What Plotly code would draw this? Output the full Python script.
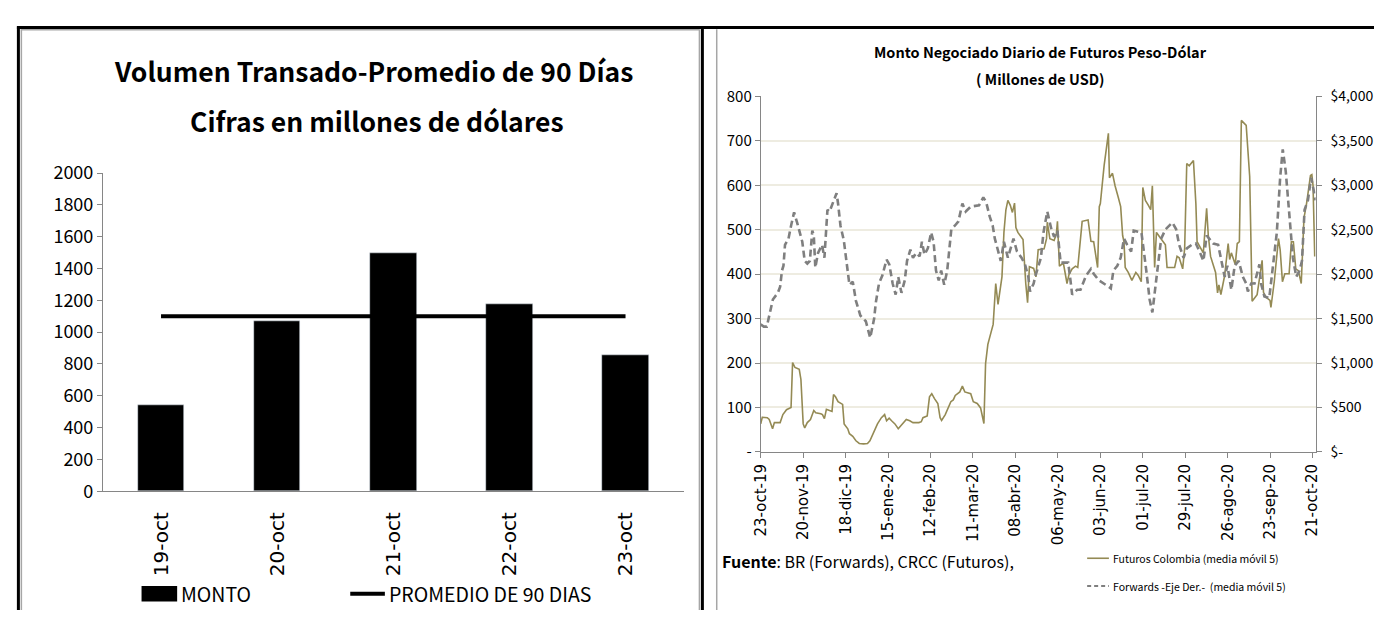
import pandas as pd
import plotly.graph_objects as go

# ---------------- Left chart: volume vs 90-day average ----------------
dias_semana = ["19-oct", "20-oct", "21-oct", "22-oct", "23-oct"]
monto = [540, 1070, 1497, 1176, 858]
promedio_90 = [1100, 1100, 1100, 1100, 1100]

# ---------------- Right chart: daily futures / forwards ----------------
inicio = pd.Timestamp("2019-10-23")

# Futuros Colombia (media movil 5), left axis - offsets in days from inicio
fut_dias = [0, 1, 4.3, 5.6, 7.8, 9, 12.8, 14.6, 17, 20, 21, 22.6, 25.4, 26.5, 28, 29, 30.7,
            32.8, 35, 36.3, 39.6, 40.7, 42, 43.3, 45.4, 47, 48, 49.3, 51, 52.6, 54, 55, 57.4,
            58.5, 60.7, 62.8, 65, 67.8, 70.4, 72, 74.3, 77, 79.6, 81.7, 83, 84.7, 86.3, 88.5,
            90.7, 93.5, 96, 98.3, 100.4, 104.3, 105.9, 107, 109.8, 111.3, 112.8, 114.6, 116.8,
            118.3, 119.3, 121.7, 123.7, 125.4, 127, 128.3, 131.3, 133, 134.6, 138.5, 140.2,
            142.8, 145, 146.8, 147.2, 148.3, 149.8, 151.5, 153.3, 155, 156.5, 159.1, 160.4,
            161.7, 163, 164.6, 166, 167.4, 168.3, 169.6, 173, 174.8, 175.6, 176, 177.2, 180,
            181.5, 183, 186.9, 188.5, 189, 190.7, 193.5, 195, 195.7, 197, 199.6, 202, 203.3,
            205.4, 207.6, 209.1, 212, 215.9, 217.8, 219.6, 222.2, 223.3, 224, 226.5, 229.3,
            230, 232, 233.7, 235.8, 237.4, 238.7, 239.6, 240.4, 242.4, 244.8, 247.4, 249, 251,
            252, 253.7, 255.7, 257.2, 258.3, 259.8, 261, 264, 266.9, 268, 273, 274.6, 276,
            278.3, 279.6, 281, 282.6, 285.4, 287, 287.8, 290.4, 291.9, 294.1, 295.2, 296.7,
            300, 301.3, 302.2, 303.5, 306, 308.3, 309.3, 310.4, 313, 314.3, 315.7, 317, 320.2,
            322.5, 324.1, 327.4, 330.7, 331.6, 333.3, 335.9, 336.5, 338.7, 340.4, 341.5, 342.6,
            344.1, 345.7, 348.5, 350, 351.3, 352.9, 354.6, 356.5, 358.3, 360, 361, 362.6, 363.5,
            364.3, 365.4]
fut_valor = [63, 78, 77, 73, 52, 66, 66, 84, 95, 100, 201, 190, 186, 163, 63, 54, 66,
             73, 93, 88, 86, 84, 75, 96, 93, 91, 129, 124, 113, 109, 107, 63, 52,
             41, 35, 25, 19, 18, 19, 25, 41, 63, 77, 84, 70, 76, 70, 63,
             52, 63, 73, 70, 66, 66, 68, 77, 81, 124, 131, 120, 109,
             77, 71, 84, 99, 113, 117, 127, 135, 148, 135, 131, 113,
             109, 99, 66, 64, 199, 242, 264, 287, 379, 332, 394, 494,
             545, 566, 555, 539, 560, 505, 494, 478, 379, 354, 336, 417, 413,
             394, 455, 457, 480, 517, 480, 476, 491, 519, 418, 425, 379, 399,
             412, 418, 415, 519, 522, 474, 473, 415, 552, 559, 645, 717,
             617, 627, 599, 573, 552, 487, 473, 415, 404, 386, 404, 397, 383,
             595, 566, 555, 545, 599, 415, 494, 480, 466, 415, 415, 440, 437,
             412, 458, 649, 644, 656, 559, 473, 458, 448, 548, 487, 440,
             404, 358, 376, 354, 397, 469, 433, 448, 422, 469, 473, 746, 735,
             620, 339, 354, 431, 359, 348, 341, 325, 383, 444, 480, 455,
             383, 401, 401, 473, 473, 412, 408, 379, 526, 559, 581, 622, 624,
             599, 440]

# Forwards - Eje Der. (media movil 5), right axis (USD millions)
fwd_dias = [0, 2, 4, 6.3, 8, 11.3, 12.8, 14, 15, 16, 18.3, 20, 22, 24, 26.3, 27.4, 29,
            30.7, 32.4, 34, 35, 36, 37.8, 40.4, 42, 44, 45.4, 47.6, 50, 51, 52.6, 54.8,
            56.3, 58.5, 60.7, 62.8, 65.7, 69.3, 72.2, 74.8, 75.9, 78, 80.2, 83, 84.8, 87,
            89, 90.7, 92.8, 95, 96.5, 98.7, 100.4, 102.6, 104.8, 106.3, 108, 110.2, 112.4,
            114, 115.6, 117.4, 119, 121, 123, 125.7, 128, 130.4, 133, 135.2, 138.5, 144,
            146.8, 148.7, 151, 153, 154.4, 158.3, 160.4, 163, 166.7, 169, 172, 174.3, 176.5,
            177.6, 180, 181, 184.8, 186.5, 189, 191.7, 193.5, 195.7, 197.8, 202.8, 204.3,
            205.4, 208.7, 210.9, 214.6, 217.8, 219.6, 223, 227.6, 230.9, 232.6, 235.2, 237.4,
            239.6, 241.7, 244.3, 246, 251.1, 254.3, 256.5, 258.3, 261.3, 264.1, 267, 271.5,
            274, 276, 278.9, 281, 284.3, 287, 289.8, 292, 294.1, 296, 298.5, 301.7, 304.3,
            306, 307.8, 310.4, 312.6, 315.2, 318, 320.2, 321.3, 323.5, 325.7, 328.9, 330,
            332.2, 335.4, 336.5, 340.4, 342.6, 344.3, 346.3, 348.5, 351, 353.2, 355.4, 357,
            358.7, 360.9, 363, 364.8, 365.8]
fwd_valor = [1435, 1410, 1410, 1610, 1715, 1790, 1860, 2040, 2095, 2330, 2400, 2545, 2695,
             2580, 2435, 2365, 2150, 2120, 2150, 2490, 2435, 2075, 2240, 2330, 2185, 2725,
             2705, 2795, 2910, 2795, 2545, 2380, 2185, 1880, 1915, 1700, 1535, 1470, 1285,
             1500, 1680, 1895, 1985, 2165, 2110, 1895, 1770, 1970, 1790, 1930, 2150, 2275,
             2185, 2240, 2200, 2365, 2220, 2290, 2470, 2365, 2040, 1930, 2040, 1880, 2040,
             2505, 2545, 2595, 2795, 2705, 2760, 2775, 2865, 2810, 2650, 2545, 2400, 2150,
             2365, 2185, 2400, 2255, 2185, 2110, 1970, 1805, 1895, 1970, 2185, 2470, 2705,
             2505, 2420, 2490, 2130, 2130, 1930, 1770, 1825, 1825, 1985, 2060, 2005, 1930,
             1880, 1840, 2040, 2095, 2185, 2400, 2330, 2255, 2490, 2470, 2040, 1715, 1570,
             1970, 2400, 2505, 2580, 2505, 2330, 2185, 2290, 2330, 2345, 2240, 2150, 2435,
             2400, 2345, 2330, 2110, 1970, 2095, 1825, 2095, 2150, 1970, 1895, 1805, 1895,
             1895, 2110, 1895, 1750, 1730, 1895, 2470, 3085, 3405, 3155, 2650, 2185, 1970,
             2040, 2150, 2725, 2830, 3085, 2940, 2830]

fechas_ticks = ["2019-10-23", "2019-11-20", "2019-12-18", "2020-01-15", "2020-02-12",
                "2020-03-11", "2020-04-08", "2020-05-06", "2020-06-03", "2020-07-01",
                "2020-07-29", "2020-08-26", "2020-09-23", "2020-10-21"]
etiquetas_ticks = ["23-oct-19", "20-nov-19", "18-dic-19", "15-ene-20", "12-feb-20",
                   "11-mar-20", "08-abr-20", "06-may-20", "03-jun-20", "01-jul-20",
                   "29-jul-20", "26-ago-20", "23-sep-20", "21-oct-20"]
eje_izq_vals = [0, 100, 200, 300, 400, 500, 600, 700, 800]
eje_izq_txt = ["-", "100", "200", "300", "400", "500", "600", "700", "800"]
eje_der_vals = [0, 500, 1000, 1500, 2000, 2500, 3000, 3500, 4000]
eje_der_txt = ["$-", "$500", "$1,000", "$1,500", "$2,000", "$2,500", "$3,000", "$3,500", "$4,000"]

fut_x = inicio + pd.to_timedelta(fut_dias, unit="D")
fwd_x = inicio + pd.to_timedelta(fwd_dias, unit="D")

W, H = 1380, 621
NARROW = "Noto Sans CJK SC, Noto Sans, sans-serif"
WIDE = "DejaVu Sans, Verdana, sans-serif"
AXIS_GRAY = "#868686"
OLIVE = "#948A54"


def px(x):
    return x / W


def py(y):
    return 1 - y / H


fig = go.Figure()

fig.add_trace(go.Bar(x=dias_semana, y=monto, name="MONTO", marker_color="black",
                     width=0.4, xaxis="x", yaxis="y", showlegend=False))
fig.add_trace(go.Scatter(x=dias_semana, y=promedio_90, name="PROMEDIO DE 90 DIAS",
                         mode="lines", line=dict(color="black", width=4),
                         xaxis="x", yaxis="y", showlegend=False))

fig.add_trace(go.Scatter(x=fut_x, y=fut_valor, name="Futuros Colombia (media móvil 5)",
                         mode="lines", line=dict(color=OLIVE, width=1.6),
                         xaxis="x2", yaxis="y2", showlegend=False))
fig.add_trace(go.Scatter(x=fwd_x, y=fwd_valor, name="Forwards -Eje Der.-  (media móvil 5)",
                         mode="lines", line=dict(color="#7F7F7F", width=2.6, dash="7px,4px"),
                         xaxis="x2", yaxis="y3", showlegend=False))

fig.update_layout(
    width=W, height=H,
    margin=dict(l=0, r=0, t=0, b=0),
    paper_bgcolor="white", plot_bgcolor="white",
    bargap=0,
    xaxis=dict(domain=[px(95), px(682)], anchor="y", type="category",
               showline=True, linecolor=AXIS_GRAY, linewidth=1, ticks="",
               tickangle=-90, ticklabelstandoff=12,
               tickfont=dict(family=WIDE, size=20, color="black"),
               showgrid=False, zeroline=False),
    yaxis=dict(domain=[py(497), py(165)], anchor="x", range=[0, 2000], dtick=200,
               showline=True, linecolor=AXIS_GRAY, linewidth=1, ticks="outside",
               ticklen=5, tickcolor=AXIS_GRAY,
               tickfont=dict(family=NARROW, size=18, color="black"),
               showgrid=False, zeroline=False),
    xaxis2=dict(domain=[px(760), px(1321)], anchor="y2", type="date",
                range=["2019-10-23", "2020-10-23"],
                tickmode="array", tickvals=fechas_ticks, ticktext=etiquetas_ticks,
                tickangle=-90, ticks="outside", ticklen=5, tickcolor=AXIS_GRAY,
                showline=True, linecolor=AXIS_GRAY, linewidth=1,
                tickfont=dict(family=WIDE, size=15, color="black"),
                showgrid=False, zeroline=False),
    yaxis2=dict(domain=[py(456), py(85)], anchor="x2", range=[0, 800],
                tickmode="array", tickvals=eje_izq_vals, ticktext=eje_izq_txt,
                ticks="outside", ticklen=5, tickcolor=AXIS_GRAY,
                showline=True, linecolor=AXIS_GRAY, linewidth=1,
                showgrid=True, gridcolor="#EEECE1", gridwidth=1.5,
                tickfont=dict(family=NARROW, size=15, color="black"), zeroline=False),
    yaxis3=dict(domain=[py(456), py(85)], anchor="x2", overlaying="y2", side="right",
                range=[0, 4000], tickmode="array", tickvals=eje_der_vals,
                ticktext=eje_der_txt, ticks="outside", ticklen=5, tickcolor=AXIS_GRAY,
                ticklabelstandoff=6,
                showline=True, linecolor=AXIS_GRAY, linewidth=1, showgrid=False,
                tickfont=dict(family=NARROW, size=14, color="black"), zeroline=False),
)

shapes = []
# panel frames
shapes.append(dict(type="line", xref="paper", yref="paper", x0=px(8), x1=px(1380),
                   y0=py(13), y1=py(13), line=dict(color="black", width=3)))
shapes.append(dict(type="line", xref="paper", yref="paper", x0=px(9.5), x1=px(9.5),
                   y0=py(12), y1=py(621), line=dict(color="black", width=3)))
shapes.append(dict(type="line", xref="paper", yref="paper", x0=px(701), x1=px(701),
                   y0=py(12), y1=py(621), line=dict(color="black", width=3)))
shapes.append(dict(type="line", xref="paper", yref="paper", x0=px(698), x1=px(698),
                   y0=py(15), y1=py(621), line=dict(color="#A6A6A6", width=1.5)))
shapes.append(dict(type="line", xref="paper", yref="paper", x0=px(12.5), x1=px(12.5),
                   y0=py(15), y1=py(621), line=dict(color="#A6A6A6", width=1.5)))
shapes.append(dict(type="line", xref="paper", yref="paper", x0=px(12), x1=px(698),
                   y0=py(15.5), y1=py(15.5), line=dict(color="#A6A6A6", width=1.5)))
shapes.append(dict(type="line", xref="paper", yref="paper", x0=px(715.5), x1=px(715.5),
                   y0=py(15), y1=py(621), line=dict(color="#A6A6A6", width=1.5)))

# left legend samples
shapes.append(dict(type="rect", xref="paper", yref="paper", x0=px(134), x1=px(170),
                   y0=py(612), y1=py(596), fillcolor="black", line=dict(width=0)))
shapes.append(dict(type="line", xref="paper", yref="paper", x0=px(345), x1=px(380),
                   y0=py(604), y1=py(604), line=dict(color="black", width=4)))
# right legend samples
shapes.append(dict(type="line", xref="paper", yref="paper", x0=px(1090), x1=px(1112),
                   y0=py(567), y1=py(567), line=dict(color=OLIVE, width=1.6)))
shapes.append(dict(type="line", xref="paper", yref="paper", x0=px(1090), x1=px(1112),
                   y0=py(596), y1=py(596), line=dict(color="#7F7F7F", width=2, dash="4px,3px")))
fig.update_layout(shapes=shapes)

ann = []


def txt(x, y, s, size, family=NARROW, bold=False, xanchor="center"):
    ann.append(dict(x=px(x), y=py(y), xref="paper", yref="paper", text=s,
                    showarrow=False, xanchor=xanchor, yanchor="middle",
                    font=dict(family=family, size=size, color="black",
                              weight="bold" if bold else "normal")))


txt(368, 58, "Volumen Transado-Promedio de 90 Días", 26.5, bold=True)
txt(372, 110, "Cifras en millones de dólares", 26.5, bold=True)
txt(172, 604, "MONTO", 19.5, xanchor="left")
txt(382, 604, "PROMEDIO DE 90 DIAS", 19.5, xanchor="left")

txt(1043, 38, "Monto Negociado Diario de Futuros Peso-Dólar", 14.5, bold=True)
txt(1043, 66, "( Millones de USD)", 14.5, bold=True)
txt(719, 570, "<b>Fuente</b>: BR (Forwards), CRCC (Futuros),", 16, xanchor="left")
txt(1114, 567, "Futuros Colombia (media móvil 5)", 10.5, xanchor="left")
txt(1114, 596, "Forwards -Eje Der.-  (media móvil 5)", 10.5, xanchor="left")
fig.update_layout(annotations=ann)

fig.write_html("out.html")
